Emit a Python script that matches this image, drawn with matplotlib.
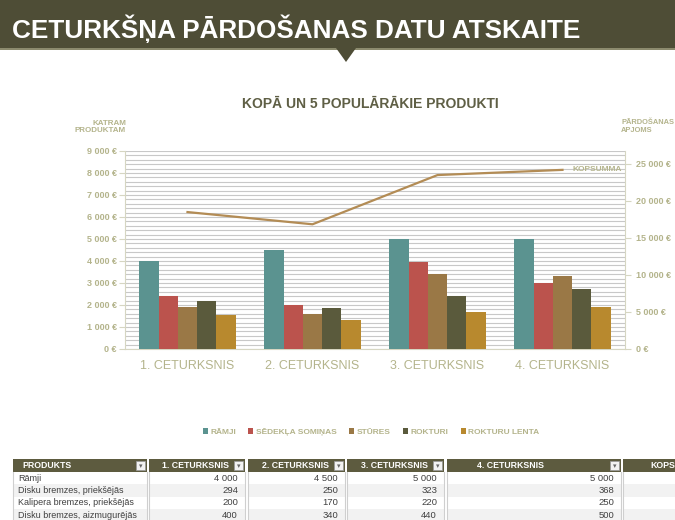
import numpy as np
import matplotlib
matplotlib.use("Agg")
import matplotlib.pyplot as plt
from matplotlib.patches import Rectangle, Polygon
from matplotlib.ticker import FuncFormatter, MultipleLocator

# chart data
quarters = ["1. CETURKSNIS", "2. CETURKSNIS", "3. CETURKSNIS", "4. CETURKSNIS"]
products = ["RĀMJI", "SĒDEKĻA SOMIŅAS", "STŪRES", "ROKTURI", "ROKTURU LENTA"]
ramji = [4000, 4500, 5000, 5000]
somina = [2400, 2000, 3950, 3000]
stures = [1900, 1600, 3400, 3300]
rokturi = [2200, 1850, 2400, 2750]
lenta = [1540, 1320, 1700, 1925]
kopsumma = [18500, 16850, 23500, 24200]

# table data
table_cols = ["PRODUKTS", "1. CETURKSNIS", "2. CETURKSNIS", "3. CETURKSNIS",
              "4. CETURKSNIS", "KOPSUMMA"]
table_products = ["Rāmji", "Disku bremzes, priekšējās",
                  "Kalipera bremzes, priekšējās", "Disku bremzes, aizmugurējās"]
table_q1 = [4000, 294, 200, 400]
table_q2 = [4500, 250, 170, 340]
table_q3 = [5000, 323, 220, 440]
table_q4 = [5000, 368, 250, 500]

bar_colors = ["#5b9390", "#bb534d", "#9a7846", "#5a5a3c", "#b8892e"]
line_color = "#b38c55"
khaki = "#b4b48c"
olive = "#5f5f45"

plt.rcParams["font.family"] = ["Liberation Sans", "DejaVu Sans"]


def euro(v, pos=None):
    return f"{int(round(v)):,}".replace(",", " ") + " €"


def num(v):
    return f"{v:,}".replace(",", " ")


fig = plt.figure(figsize=(6.75, 5.2), dpi=100)

# overlay in pixel coordinates for header, labels and table
bg = fig.add_axes([0, 0, 1, 1])
bg.set_xlim(0, 675)
bg.set_ylim(520, 0)
bg.axis("off")

bg.add_patch(Rectangle((0, 0), 675, 49, facecolor="#4e4d36", edgecolor="none"))
bg.add_patch(Rectangle((0, 48), 675, 1.5, facecolor="#8c8b6e", edgecolor="none"))
bg.add_patch(Polygon([(336, 48), (356, 48), (346, 62)], closed=True,
                     facecolor="#4e4d36", edgecolor="none"))
bg.text(12, 29, "CETURKŠŅA PĀRDOŠANAS DATU ATSKAITE", color="white",
        fontsize=18.8, fontweight="bold", va="center", ha="left")

bg.text(370, 104, "KOPĀ UN 5 POPULĀRĀKIE PRODUKTI", color=olive, fontsize=10,
        fontweight="bold", ha="center", va="center")
bg.text(126, 127, "KATRAM\nPRODUKTAM", color=khaki, fontsize=5.8,
        fontweight="bold", ha="right", va="center", linespacing=1.15)
bg.text(621, 127, "PĀRDOŠANAS\nAPJOMS", color=khaki, fontsize=5.4,
        fontweight="bold", ha="left", va="center", linespacing=1.2)

# bar chart
ax = fig.add_axes([125 / 675, 1 - 349 / 520, 500 / 675, 198 / 520])
x = np.arange(len(quarters))
width = 0.154
series = [ramji, somina, stures, rokturi, lenta]
handles = []
for i, (vals, col) in enumerate(zip(series, bar_colors)):
    h = ax.bar(x + (i - 2) * width, vals, width, color=col, zorder=3,
               label=products[i])
    handles.append(h)

ax.set_xlim(-0.5, 3.5)
ax.set_ylim(0, 9000)
ax.yaxis.set_major_locator(MultipleLocator(1000))
ax.yaxis.set_minor_locator(MultipleLocator(200))
ax.yaxis.set_major_formatter(FuncFormatter(euro))
ax.grid(axis="y", which="both", color="#c8c8c8", linewidth=0.8, zorder=0)
ax.set_axisbelow(True)
ax.set_xticks(x)
ax.set_xticklabels(quarters)
ax.tick_params(axis="x", length=0, pad=8, labelsize=9, labelcolor=khaki)
ax.tick_params(axis="y", which="major", length=4, color="#d6d6c2",
               labelsize=6.5, labelcolor=khaki, pad=2)
ax.tick_params(axis="y", which="minor", length=0)
for lab in ax.get_yticklabels():
    lab.set_fontweight("bold")
for s in ["top", "right"]:
    ax.spines[s].set_visible(False)
ax.spines["left"].set_color("#d6d6c2")
ax.spines["bottom"].set_color("#d6d6c2")

# total line on secondary axis
ax2 = ax.twinx()
ax2.plot(x, kopsumma, color=line_color, linewidth=1.6, zorder=4)
ax2.set_ylim(0, 26750)
ax2.yaxis.set_major_locator(MultipleLocator(5000))
ax2.yaxis.set_major_formatter(FuncFormatter(euro))
ax2.tick_params(axis="y", length=4, color="#d6d6c2", labelsize=6.5,
                labelcolor=khaki, pad=4)
for lab in ax2.get_yticklabels():
    lab.set_fontweight("bold")
for s in ["top", "left", "bottom"]:
    ax2.spines[s].set_visible(False)
ax2.spines["right"].set_color("#d6d6c2")
ax2.annotate("KOPSUMMA", (x[-1], kopsumma[-1]), xytext=(7, 0),
             textcoords="offset points", color=khaki, fontsize=6,
             fontweight="bold", va="center", ha="left")

leg = fig.legend(handles=handles, loc="center",
                 bbox_to_anchor=(371 / 675, 1 - 432 / 520), ncol=5,
                 frameon=False, fontsize=6, handlelength=0.6,
                 handleheight=0.6, handletextpad=0.3, columnspacing=1.5)
for t in leg.get_texts():
    t.set_color(khaki)
    t.set_fontweight("bold")

# table
col_left = [13, 149, 248, 347, 447, 623]
col_right = [147, 245, 345, 444, 621, 700]
head_top, head_h, row_h = 459, 13, 12.3
head_color = "#5d5b3f"
for j, name in enumerate(table_cols):
    l, r = col_left[j], col_right[j]
    bg.add_patch(Rectangle((l, head_top), r - l, head_h, facecolor=head_color,
                           edgecolor="none"))
    if j < 5:
        bg.add_patch(Rectangle((r - 11, head_top + 2), 9, 9, facecolor="#f2f2f2",
                               edgecolor="#9a9a9a", linewidth=0.5))
        bg.text(r - 6.5, head_top + 6.8, "▾", fontsize=5, color="#666666",
                ha="center", va="center", family=["DejaVu Sans"])
    if j == 0:
        bg.text(l + 9, head_top + 6.8, name, color="white", fontsize=6.3,
                fontweight="bold", ha="left", va="center")
    elif j < 4:
        bg.text(r - 16, head_top + 6.8, name, color="white", fontsize=6.3,
                fontweight="bold", ha="right", va="center")
    else:
        bg.text(l + 30 if j == 4 else l + 27, head_top + 6.8, name,
                color="white", fontsize=6.3, fontweight="bold", ha="left",
                va="center")

cols_vals = [table_q1, table_q2, table_q3, table_q4]
for i, prod in enumerate(table_products):
    top = head_top + head_h + i * row_h
    shade = "#f2f2f2" if i % 2 else "white"
    for j in range(len(table_cols)):
        l, r = col_left[j], col_right[j]
        bg.add_patch(Rectangle((l, top), r - l, row_h, facecolor=shade,
                               edgecolor="none"))
    bg.text(col_left[0] + 5, top + row_h / 2, prod, color="#404040",
            fontsize=6.5, ha="left", va="center")
    for j, vals in enumerate(cols_vals):
        bg.text(col_right[j + 1] - 7, top + row_h / 2, num(vals[i]),
                color="#404040", fontsize=6.8, ha="right", va="center")

for j in range(len(table_cols)):
    for xx in (col_left[j], col_right[j]):
        bg.plot([xx, xx], [head_top + head_h, 520], color="#cfcfcf",
                linewidth=0.8)

fig.savefig("out.png", dpi=100)
